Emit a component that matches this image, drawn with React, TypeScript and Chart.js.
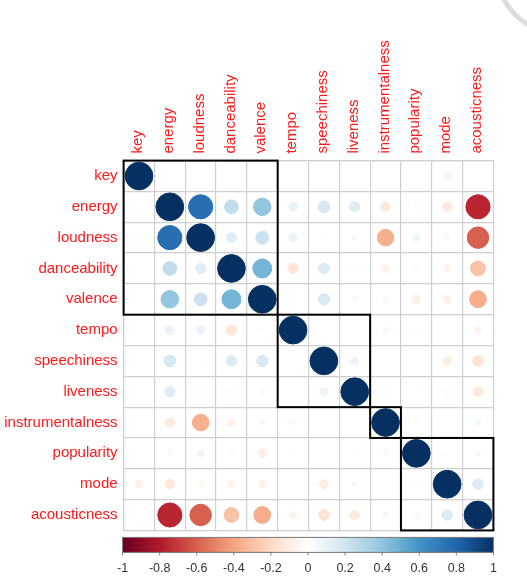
import React, { useEffect, useRef } from "react";
import { Chart, registerables } from "chart.js";

Chart.register(...registerables);

const vars = [
  "key", "energy", "loudness", "danceability", "valence", "tempo",
  "speechiness", "liveness", "instrumentalness", "popularity", "mode", "acousticness",
];

const keyRow = [1, 0.01, 0.01, 0.01, 0.01, 0.0, 0.0, 0.0, 0.0, 0.0, -0.07, 0.0];
const energyRow = [0.01, 1, 0.76, 0.25, 0.4, 0.1, 0.18, 0.14, -0.12, 0.03, -0.12, -0.76];
const loudnessRow = [0.01, 0.76, 1, 0.14, 0.22, 0.09, 0.02, 0.03, -0.36, 0.07, -0.04, -0.6];
const danceabilityRow = [0.01, 0.25, 0.14, 1, 0.47, -0.14, 0.15, -0.03, -0.08, -0.04, -0.06, -0.29];
const valenceRow = [0.01, 0.4, 0.22, 0.47, 1, 0.02, 0.17, 0.04, -0.04, -0.09, -0.08, -0.37];
const tempoRow = [0.0, 0.1, 0.09, -0.14, 0.02, 1, 0.0, 0.0, -0.04, 0.02, 0.0, -0.06];
const speechinessRow = [0.0, 0.18, 0.02, 0.15, 0.17, 0.0, 1, 0.08, 0.0, 0.0, -0.1, -0.15];
const livenessRow = [0.0, 0.14, 0.03, -0.03, 0.04, 0.0, 0.08, 1, 0.0, -0.02, -0.04, -0.12];
const instrumentalnessRow = [0.0, -0.12, -0.36, -0.08, -0.04, -0.04, 0.0, 0.0, 1, 0.03, 0.0, 0.05];
const popularityRow = [0.0, 0.03, 0.07, -0.04, -0.09, 0.02, 0.0, -0.02, 0.03, 1, 0.02, 0.04];
const modeRow = [-0.07, -0.12, -0.04, -0.06, -0.08, 0.0, -0.1, -0.04, 0.0, 0.02, 1, 0.15];
const acousticnessRow = [0.0, -0.76, -0.6, -0.29, -0.37, -0.06, -0.15, -0.12, 0.05, 0.04, 0.15, 1];

const rows = [
  keyRow, energyRow, loudnessRow, danceabilityRow, valenceRow, tempoRow,
  speechinessRow, livenessRow, instrumentalnessRow, popularityRow, modeRow, acousticnessRow,
];

// hierarchical clusters (first index, last index)
const clusters = [
  [0, 4],
  [5, 7],
  [8, 8],
  [9, 11],
];

const colorbarTicks = [-1, -0.8, -0.6, -0.4, -0.2, 0, 0.2, 0.4, 0.6, 0.8, 1];

const palette = [
  "#67001F", "#B2182B", "#D6604D", "#F4A582", "#FDDBC7", "#FFFFFF",
  "#D1E5F0", "#92C5DE", "#4393C3", "#2166AC", "#053061",
];

function hexToRgb(h: string) {
  return [parseInt(h.slice(1, 3), 16), parseInt(h.slice(3, 5), 16), parseInt(h.slice(5, 7), 16)];
}

function corrColor(v: number) {
  const t = (Math.max(-1, Math.min(1, v)) + 1) / 2 * (palette.length - 1);
  const i = Math.min(palette.length - 2, Math.floor(t));
  const f = t - i;
  const a = hexToRgb(palette[i]);
  const b = hexToRgb(palette[i + 1]);
  const c = a.map((x, k) => Math.round(x + (b[k] - x) * f));
  return `rgb(${c[0]},${c[1]},${c[2]})`;
}

const overlayPlugin = {
  id: "corrOverlay",
  beforeDraw(chart: any) {
    const { ctx } = chart;
    ctx.save();
    ctx.strokeStyle = "rgba(170,170,170,0.4)";
    ctx.lineWidth = 5;
    ctx.beginPath();
    ctx.arc(562, -32, 66, 0, Math.PI * 2);
    ctx.stroke();
    ctx.restore();
  },
  afterDatasetsDraw(chart: any) {
    const { ctx, chartArea, scales } = chart;
    const cw = (chartArea.right - chartArea.left) / vars.length;
    const ch = (chartArea.bottom - chartArea.top) / vars.length;
    ctx.save();
    ctx.strokeStyle = "#000";
    ctx.lineWidth = 2;
    clusters.forEach(([a, b]) => {
      const x0 = scales.x.getPixelForValue(a) - cw / 2;
      const x1 = scales.x.getPixelForValue(b) + cw / 2;
      const y0 = scales.y.getPixelForValue(a) - ch / 2;
      const y1 = scales.y.getPixelForValue(b) + ch / 2;
      ctx.strokeRect(x0, y0, x1 - x0, y1 - y0);
    });
    ctx.restore();
  },
  afterDraw(chart: any) {
    const { ctx, chartArea } = chart;
    const left = chartArea.left - 1;
    const right = chartArea.right;
    const top = chartArea.bottom + 7;
    const h = 15;
    ctx.save();
    const grad = ctx.createLinearGradient(left, 0, right, 0);
    palette.forEach((c, i) => grad.addColorStop(i / (palette.length - 1), c));
    ctx.fillStyle = grad;
    ctx.fillRect(left, top, right - left, h);
    ctx.strokeStyle = "#777";
    ctx.lineWidth = 1;
    ctx.strokeRect(left, top, right - left, h);
    ctx.fillStyle = "#333";
    ctx.font = "12.5px 'Liberation Sans', Arial, sans-serif";
    ctx.textAlign = "center";
    ctx.textBaseline = "middle";
    colorbarTicks.forEach((t) => {
      const x = left + ((t + 1) / 2) * (right - left);
      ctx.beginPath();
      ctx.moveTo(x, top + h);
      ctx.lineTo(x, top + h + 3);
      ctx.stroke();
      ctx.fillText(String(t), x, top + h + 16);
    });
    ctx.restore();
  },
};

export default function App() {
  const ref = useRef<HTMLCanvasElement | null>(null);

  useEffect(() => {
    const canvas = ref.current;
    if (!canvas) return;
    const points: any[] = [];
    rows.forEach((row, i) => {
      row.forEach((v, j) => {
        points.push({ x: vars[j], y: vars[i], v });
      });
    });
    const radius = (c: any) => {
      const a = c.chart.chartArea;
      if (!a || !c.raw) return 0;
      const cell = (a.right - a.left) / vars.length;
      return 0.45 * Math.sqrt(Math.abs(c.raw.v)) * cell;
    };
    const color = (c: any) => (c.raw ? corrColor(c.raw.v) : "#fff");
    const chart = new Chart(canvas, {
      type: "scatter",
      data: {
        datasets: [
          {
            data: points,
            pointRadius: radius,
            pointHoverRadius: radius,
            backgroundColor: color,
            borderColor: color,
            borderWidth: 1,
          } as any,
        ],
      },
      options: {
        animation: false,
        responsive: false,
        devicePixelRatio: 1,
        events: [],
        layout: { padding: { left: 0, top: 0, right: 33.6, bottom: 51.6 } },
        plugins: { legend: { display: false }, tooltip: { enabled: false } },
        scales: {
          x: {
            type: "category",
            position: "top",
            labels: vars,
            offset: true,
            grid: { offset: true, color: "#cfcfcf", lineWidth: 1.2, drawTicks: false },
            border: { color: "#cfcfcf", width: 1.2 },
            ticks: {
              autoSkip: false,
              minRotation: 90,
              maxRotation: 90,
              padding: 7,
              labelOffset: 17,
              color: "#ff1a1a",
              font: { family: "'Liberation Sans', Arial, sans-serif", size: 15 },
            },
            afterFit: (s: any) => {
              s.height = 160.6;
            },
          },
          y: {
            type: "category",
            labels: vars,
            offset: true,
            grid: { offset: true, color: "#cfcfcf", lineWidth: 1.2, drawTicks: false },
            border: { color: "#cfcfcf", width: 1.2 },
            ticks: {
              autoSkip: false,
              padding: 6,
              color: "#ff1a1a",
              font: { family: "'Liberation Sans', Arial, sans-serif", size: 15 },
            },
            afterFit: (s: any) => {
              s.width = 123.6;
            },
          },
        },
      } as any,
      plugins: [overlayPlugin],
    });
    return () => chart.destroy();
  }, []);

  return (
    <div style={{ position: "fixed", left: 0, top: 0, width: 527, height: 582, background: "#fff" }}>
      <canvas ref={ref} width={527} height={582} style={{ display: "block" }} />
    </div>
  );
}
